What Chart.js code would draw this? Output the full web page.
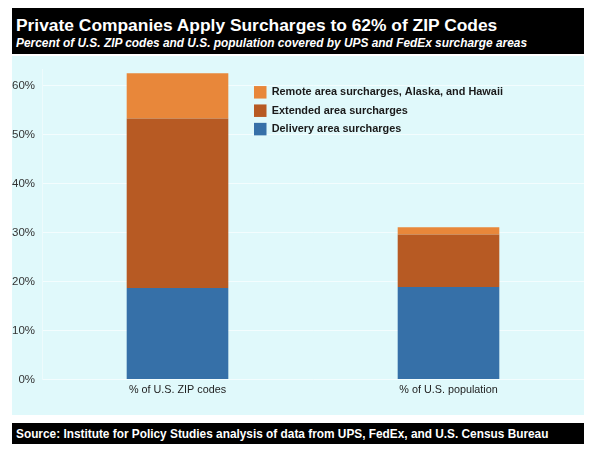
<!DOCTYPE html>
<html>
<head>
<meta charset="utf-8">
<script src="https://cdn.jsdelivr.net/npm/chart.js@4.4.1/dist/chart.umd.min.js"></script>
<style>
  html, body { margin: 0; padding: 0; background: #ffffff; width: 600px; height: 456px; overflow: hidden; font-family: "Liberation Sans", Arial, sans-serif; }
  #titlebox { position: absolute; left: 12px; top: 8px; width: 572px; height: 46px; background: #000; color: #fff; }
  #title { position: absolute; left: 4px; top: 6.5px; font-size: 17.4px; font-weight: bold; white-space: nowrap; }
  #subtitle { position: absolute; left: 4px; top: 28px; font-size: 11.9px; font-weight: bold; font-style: italic; white-space: nowrap; }
  #chartbox { position: absolute; left: 12px; top: 56px; width: 572px; height: 359px; background: #e0f9fb; }
  #sourcebox { position: absolute; left: 12px; top: 423px; width: 572px; height: 21px; background: #000; color: #fff; }
  #source { position: absolute; left: 4px; top: 4px; font-size: 11.85px; font-weight: bold; white-space: nowrap; }
</style>
</head>
<body>
<div id="titlebox">
  <div id="title">Private Companies Apply Surcharges to 62% of ZIP Codes</div>
  <div id="subtitle">Percent of U.S. ZIP codes and U.S. population covered by UPS and FedEx surcharge areas</div>
</div>
<div id="chartbox"><canvas id="c" width="572" height="359"></canvas></div>
<div id="sourcebox"><div id="source">Source: Institute for Policy Studies analysis of data from UPS, FedEx, and U.S. Census Bureau</div></div>
<script>
const categories = ["% of U.S. ZIP codes", "% of U.S. population"];
const seriesNames = ["Delivery area surcharges", "Extended area surcharges", "Remote area surcharges, Alaska, and Hawaii"];
const deliveryValues = [18.7, 18.9];
const extendedValues = [34.6, 10.7];
const remoteValues = [9.2, 1.5];
const yTickValues = [0, 10, 20, 30, 40, 50, 60];
const colors = ["#3670a8", "#b75a23", "#e8873a"];

const legendPlugin = {
  id: 'innerLegend',
  afterDraw(chart) {
    const ctx = chart.ctx;
    const ds = chart.data.datasets.slice().reverse();
    const x0 = 242, y0 = 36.3, step = 18.4, sq = 12.5;
    ctx.save();
    ctx.font = 'bold 10.9px "Liberation Sans", Arial, sans-serif';
    ctx.textBaseline = 'middle';
    ds.forEach((d, i) => {
      const cy = y0 + i * step;
      ctx.fillStyle = d.backgroundColor;
      ctx.fillRect(x0, cy - sq / 2, sq, sq);
      ctx.fillStyle = '#1a1a1a';
      ctx.fillText(d.label, x0 + 17.7, cy);
    });
    ctx.restore();
  }
};

new Chart(document.getElementById('c'), {
  type: 'bar',
  data: {
    labels: categories,
    datasets: [
      { label: seriesNames[0], data: deliveryValues, backgroundColor: colors[0] },
      { label: seriesNames[1], data: extendedValues, backgroundColor: colors[1] },
      { label: seriesNames[2], data: remoteValues, backgroundColor: colors[2] }
    ]
  },
  options: {
    responsive: false,
    animation: false,
    devicePixelRatio: 1,
    layout: { padding: { top: 0, right: 0, bottom: 14.5, left: 0 } },
    datasets: { bar: { categoryPercentage: 1.0, barPercentage: 0.375, borderWidth: 0 } },
    plugins: { legend: { display: false }, tooltip: { enabled: false }, title: { display: false } },
    scales: {
      x: {
        stacked: true,
        grid: { display: false, drawTicks: false },
        border: { display: false },
        ticks: { color: '#222', font: { family: '"Liberation Sans", Arial, sans-serif', size: 10.8 }, padding: 4 }
      },
      y: {
        stacked: true,
        min: 0,
        max: 63.2,
        afterBuildTicks(scale) { scale.ticks = yTickValues.map(v => ({ value: v })); },
        afterFit(scale) { scale.width = 30; },
        grid: { color: '#f3fdfe', lineWidth: 1, drawTicks: false },
        border: { display: true, color: '#eefbfc' },
        ticks: { color: '#333', padding: 7, font: { family: '"Liberation Sans", Arial, sans-serif', size: 11.5 }, callback: v => v + '%' }
      }
    }
  },
  plugins: [legendPlugin]
});
</script>
</body>
</html>
